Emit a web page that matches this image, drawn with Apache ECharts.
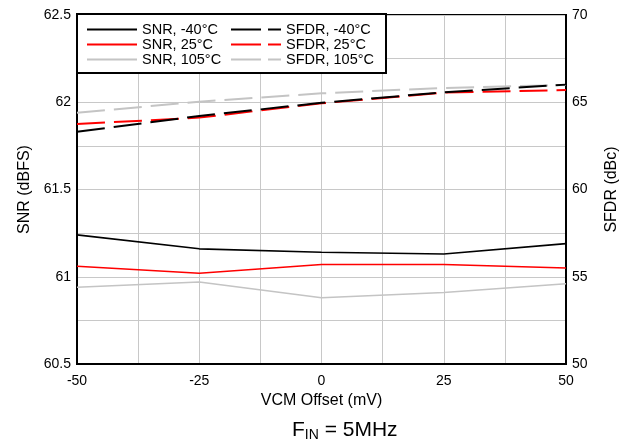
<!DOCTYPE html>
<html><head><meta charset="utf-8">
<script src="https://cdn.jsdelivr.net/npm/echarts@6/dist/echarts.min.js"></script>
<style>html,body{margin:0;padding:0;background:#fff}#c{width:628px;height:440px}</style>
</head><body><div id="c"></div>
<script>
const vcmOffset = [-50, -25, 0, 25, 50];
const snrM40 = [61.24, 61.16, 61.14, 61.13, 61.19];
const snr25 = [61.06, 61.02, 61.07, 61.07, 61.05];
const snr105 = [60.94, 60.97, 60.88, 60.91, 60.96];
const sfdrM40 = [63.31, 64.21, 64.97, 65.57, 66.01];
const sfdr25 = [63.75, 64.12, 64.94, 65.55, 65.70];
const sfdr105 = [64.40, 65.03, 65.51, 65.82, 65.99];
const seriesNames = ['SNR, -40°C','SNR, 25°C','SNR, 105°C','SFDR, -40°C','SFDR, 25°C','SFDR, 105°C'];

const FONT = 'Liberation Sans, Arial, sans-serif';
const BLACK = '#000000', RED = '#ff0000', GRAY = '#c4c4c4';
const SOLID_ICON = 'path://M0,0h50v2h-50z';
const DASH_ICON = 'path://M0,0h30v2h-30z M37,0h13v2h-13z';
function pts(arr){ return vcmOffset.map((x,i)=>[x, arr[i]]); }
function mk(name, arr, color, dashed, yIdx, z){
  return {name, type:'line', yAxisIndex:yIdx, data:pts(arr), symbol:'none', silent:true, z,
    lineStyle:{color, width: dashed ? 2 : 1.6, type: dashed ? [28,9] : 'solid'}, itemStyle:{color}};
}
const chart = echarts.init(document.getElementById('c'), null, {renderer:'canvas'});
chart.setOption({
  animation:false,
  backgroundColor:'#fff',
  textStyle:{fontFamily:FONT},
  title:{text:'F{s|IN} = 5MHz', left:287, top:414,
    textStyle:{fontFamily:FONT, fontSize:21, fontWeight:'normal', color:'#000',
      rich:{s:{fontFamily:FONT, fontSize:14, color:'#000', verticalAlign:'bottom', padding:[9,0,0,0]}}}},
  grid:{left:77, right:61, top:15, bottom:76, show:true, borderColor:'#000', borderWidth:2, backgroundColor:'transparent'},
  legend:{orient:'vertical', left:77, top:14, height:46,
    data:seriesNames.map((n,i)=>({name:n, icon: i<3 ? SOLID_ICON : DASH_ICON})),
    itemWidth:50, itemHeight:2, itemGap:0,
    padding:[8,11,6,10], backgroundColor:'#fff', borderColor:'#000', borderWidth:2,
    textStyle:{fontFamily:FONT, fontSize:14.5, lineHeight:15, width:89, color:'#000'}, selectedMode:false},
  xAxis:{type:'value', min:-50, max:50, interval:12.5,
    axisLine:{onZero:false, lineStyle:{color:'#000', width:2}}, axisTick:{show:false},
    axisLabel:{color:'#000', fontSize:14, fontFamily:FONT, margin:10,
      formatter:v=> (Math.abs(v%25)<1e-9 ? String(v) : '')},
    splitLine:{show:true, lineStyle:{color:'#c8c8c8', width:1}},
    name:'VCM Offset (mV)', nameLocation:'middle', nameGap:26,
    nameTextStyle:{color:'#000', fontSize:16, fontFamily:FONT}},
  yAxis:[
    {type:'value', min:60.5, max:62.5, interval:0.25, position:'left',
     axisLine:{show:true, onZero:false, lineStyle:{color:'#000', width:2}}, axisTick:{show:false},
     axisLabel:{color:'#000', fontSize:14, fontFamily:FONT, margin:6,
       formatter:v=> (Math.abs((v*2)%1)<1e-9 ? String(v) : '')},
     splitLine:{show:true, lineStyle:{color:'#c8c8c8', width:1}},
     name:'SNR (dBFS)', nameLocation:'middle', nameGap:43, nameRotate:90,
     nameTextStyle:{color:'#000', fontSize:16, fontFamily:FONT}},
    {type:'value', min:50, max:70, interval:2.5, position:'right',
     axisLine:{show:true, onZero:false, lineStyle:{color:'#000', width:2}}, axisTick:{show:false},
     axisLabel:{color:'#000', fontSize:14, fontFamily:FONT, margin:6,
       formatter:v=> (Math.abs(v%5)<1e-9 ? String(v) : '')},
     splitLine:{show:false},
     name:'SFDR (dBc)', nameLocation:'middle', nameGap:38, nameRotate:90,
     nameTextStyle:{color:'#000', fontSize:16, fontFamily:FONT}}
  ],
  series:[
    mk(seriesNames[2], snr105, GRAY, false, 0, 3),
    mk(seriesNames[1], snr25, RED, false, 0, 4),
    mk(seriesNames[0], snrM40, BLACK, false, 0, 5),
    mk(seriesNames[5], sfdr105, GRAY, true, 1, 3),
    mk(seriesNames[4], sfdr25, RED, true, 1, 4),
    mk(seriesNames[3], sfdrM40, BLACK, true, 1, 5)
  ]
});
</script></body></html>
